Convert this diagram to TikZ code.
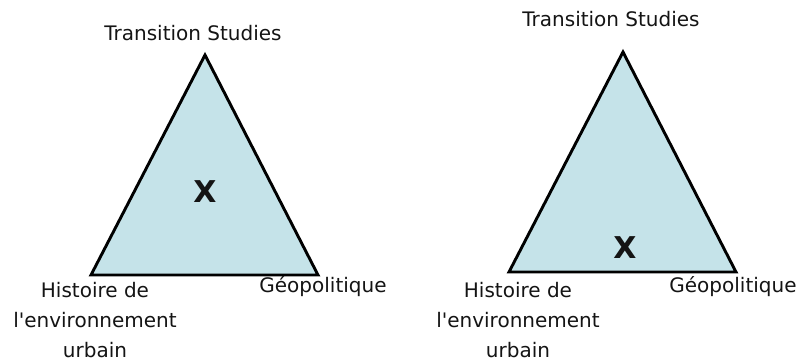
\documentclass[tikz,border=0pt]{standalone}
\usepackage{fontspec}
\newfontfamily\lblfont{DejaVu Sans}
\definecolor{trifill}{RGB}{197,227,233}
\definecolor{txt}{RGB}{20,20,20}
\begin{document}
\begin{tikzpicture}[x=1pt,y=-1pt,
  tri/.style={draw=black,line width=2.9pt,fill=trifill,line join=miter},
  lbl/.style={font=\lblfont\fontsize{20}{30}\selectfont,text=txt,inner sep=0pt,anchor=base},
  mlbl/.style={lbl,align=center},
  xmark/.style={font=\lblfont\fontsize{30}{30}\selectfont\bfseries,text=txt,inner sep=0pt,anchor=base}]
\useasboundingbox (0,0) rectangle (804,363);
% left triangle
\coordinate (A1) at (205,55);
\coordinate (B1) at (91,275);
\coordinate (C1) at (318,275);
\draw[tri] (A1) -- (B1) -- (C1) -- cycle;
\node[lbl] (t1) at (193,41) {Transition Studies};
\node[mlbl] (h1) at (95,358) {Histoire de\\l'environnement\\urbain};
\node[lbl] (g1) at (323,293) {Géopolitique};
\node[xmark] (x1) at (205,203) {X};
% right triangle
\coordinate (A2) at (623,52);
\coordinate (B2) at (509,272);
\coordinate (C2) at (736,272);
\draw[tri] (A2) -- (B2) -- (C2) -- cycle;
\node[lbl] (t2) at (611,27) {Transition Studies};
\node[mlbl] (h2) at (518,358) {Histoire de\\l'environnement\\urbain};
\node[lbl] (g2) at (733,293) {Géopolitique};
\node[xmark] (x2) at (625,259) {X};
\end{tikzpicture}
\end{document}
